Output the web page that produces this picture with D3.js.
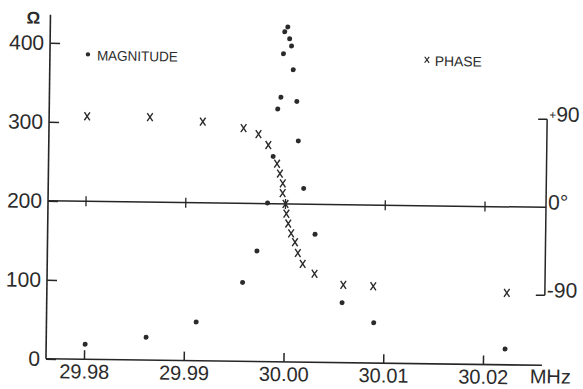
<!DOCTYPE html>
<html>
<head>
<meta charset="utf-8">
<script src="https://cdn.jsdelivr.net/npm/d3@7"></script>
<style>
  html, body { margin: 0; padding: 0; background: #fff; }
  svg { display: block; }
  text { font-family: "Liberation Sans", Arial, sans-serif; fill: #2b2b2b; }
</style>
</head>
<body>
<script>
// ---- data ----
const magFreq = [29.9801, 29.9862, 29.9912, 29.9958, 29.9972, 29.9982, 29.9987, 29.9991, 29.9994, 29.9996, 29.9997,
                 30.0000, 30.0002, 30.0004, 30.0006, 30.0010, 30.0012, 30.0018, 30.0030, 30.0058, 30.0090, 30.0222];
const magnitude = [19, 29, 49, 100, 140, 201, 260, 320, 335, 390, 418,
                   424, 409, 400, 370, 330, 280, 220, 162, 76, 51, 20];
const phaseFreq = [29.9800, 29.9863, 29.9916, 29.9957, 29.9972, 29.9982, 29.9991, 29.9994, 29.9997, 29.9997, 30.0000,
                   30.0001, 30.0003, 30.0006, 30.0010, 30.0013, 30.0018, 30.0030, 30.0059, 30.0089, 30.0223];
const phase = [87, 87, 83, 77, 71, 60, 41, 31, 21, 11, 0,
               -10, -20, -30, -39, -50, -61, -71, -82, -83, -88];
const freqTicks = [29.98, 29.99, 30.00, 30.01, 30.02];
const freqTickLabels = ["29.98", "29.99", "30.00", "30.01", "30.02"];
const ohmTicks = [0, 100, 200, 300, 400];
const phaseTicks = [90, 0, -90];
const phaseSigns = ["+", "", "-"];
const phaseTickLabels = ["90", "0°", "90"];

// ---- layout ----
const W = 583, H = 389;
const ink = "#262626";
const svg = d3.select("body").append("svg").attr("width", W).attr("height", H);
svg.append("rect").attr("width", W).attr("height", H).attr("fill", "#fff");
const g = svg.append("g").attr("transform", "rotate(0.75,290,205)");

const x = d3.scaleLinear().domain([29.98, 30.02]).range([86, 485]);
const y = d3.scaleLinear().domain([0, 400]).range([362, 46]);
const yp = d3.scaleLinear().domain([-90, 90]).range([292, 116]);

const leftX = 48, rightX = 546, bottomY = y(0), midY = y(200);

// left axis
const la = g.append("g").attr("transform", `translate(${leftX},0)`)
  .call(d3.axisLeft(y).tickValues(ohmTicks).tickFormat(d3.format("d")).tickSizeInner(-10).tickSizeOuter(0).tickPadding(6));
la.select(".domain").remove();
la.selectAll("line").attr("stroke", ink).attr("stroke-width", 1.5);
la.selectAll("text").attr("font-size", 21).attr("fill", "#2b2b2b").attr("font-family", "Liberation Sans, Arial, sans-serif");
g.append("line").attr("x1", leftX).attr("x2", leftX).attr("y1", 18).attr("y2", bottomY)
  .attr("stroke", ink).attr("stroke-width", 1.6);

// bottom axis
const ba = g.append("g").attr("transform", `translate(0,${bottomY})`)
  .call(d3.axisBottom(x).tickValues(freqTicks).tickFormat((d, i) => freqTickLabels[i]).tickSizeInner(-9).tickSizeOuter(0).tickPadding(5));
ba.select(".domain").remove();
ba.selectAll("line").attr("stroke", ink).attr("stroke-width", 1.5);
ba.selectAll("text").attr("font-size", 20).attr("fill", "#2b2b2b").attr("font-family", "Liberation Sans, Arial, sans-serif");
g.append("line").attr("x1", leftX).attr("x2", 544).attr("y1", bottomY).attr("y2", bottomY)
  .attr("stroke", ink).attr("stroke-width", 1.6);
g.append("text").attr("x", 532).attr("y", 380).attr("font-size", 20).text("MHz");

// Ω unit
g.append("text").attr("x", 31).attr("y", 27).attr("text-anchor", "middle")
  .attr("font-size", 17).attr("font-weight", "bold").text("Ω");

// zero-phase line with crossing ticks
g.append("line").attr("x1", leftX).attr("x2", rightX).attr("y1", midY).attr("y2", midY)
  .attr("stroke", ink).attr("stroke-width", 1.5);
g.selectAll(".midtick").data(freqTicks).join("line")
  .attr("x1", d => x(d)).attr("x2", d => x(d)).attr("y1", midY - 5).attr("y2", midY + 5)
  .attr("stroke", ink).attr("stroke-width", 1.3);

// right (phase) axis
g.append("line").attr("x1", rightX).attr("x2", rightX).attr("y1", yp(90)).attr("y2", yp(-90))
  .attr("stroke", ink).attr("stroke-width", 1.5);
g.selectAll(".ptick").data(phaseTicks.filter(d => d !== 0)).join("line")
  .attr("x1", rightX - 9).attr("x2", rightX).attr("y1", d => yp(d)).attr("y2", d => yp(d))
  .attr("stroke", ink).attr("stroke-width", 1.5);
const pl = g.selectAll(".plabel").data(phaseTicks).join("text")
  .attr("x", 548).attr("y", d => yp(d) + 2).attr("dy", "0.36em").attr("font-size", 21);
pl.append("tspan").attr("font-size", (d, i) => phaseSigns[i] === "+" ? 12 : 21)
  .attr("dy", (d, i) => phaseSigns[i] === "+" ? "-0.2em" : 0)
  .text((d, i) => phaseSigns[i]);
pl.append("tspan").attr("dy", (d, i) => phaseSigns[i] === "+" ? "0.12em" : 0)
  .text((d, i) => phaseTickLabels[i]);

// x-marker path
function cross(cx, cy, w, h) {
  return `M${cx - w / 2},${cy - h / 2}L${cx + w / 2},${cy + h / 2}M${cx + w / 2},${cy - h / 2}L${cx - w / 2},${cy + h / 2}`;
}

// magnitude dots
g.selectAll(".mag").data(magFreq).join("circle")
  .attr("cx", d => x(d)).attr("cy", (d, i) => y(magnitude[i])).attr("r", 2.5)
  .attr("fill", "#2a2a2a");

// phase crosses
g.selectAll(".ph").data(phaseFreq).join("path")
  .attr("d", (d, i) => cross(x(d), yp(phase[i]), 5.5, 8))
  .attr("stroke", "#2a2a2a").attr("stroke-width", 1.4).attr("fill", "none");

// legends
g.append("circle").attr("cx", 86).attr("cy", 57).attr("r", 2.2).attr("fill", "#2a2a2a");
g.append("text").attr("x", 95).attr("y", 63).attr("font-size", 14).attr("textLength", 81)
  .attr("lengthAdjust", "spacingAndGlyphs").text("MAGNITUDE");
g.append("path").attr("d", cross(425, 58, 4.5, 6)).attr("stroke", "#2a2a2a").attr("stroke-width", 1.2);
g.append("text").attr("x", 433).attr("y", 64).attr("font-size", 14).attr("textLength", 47)
  .attr("lengthAdjust", "spacingAndGlyphs").text("PHASE");
</script>
</body>
</html>
